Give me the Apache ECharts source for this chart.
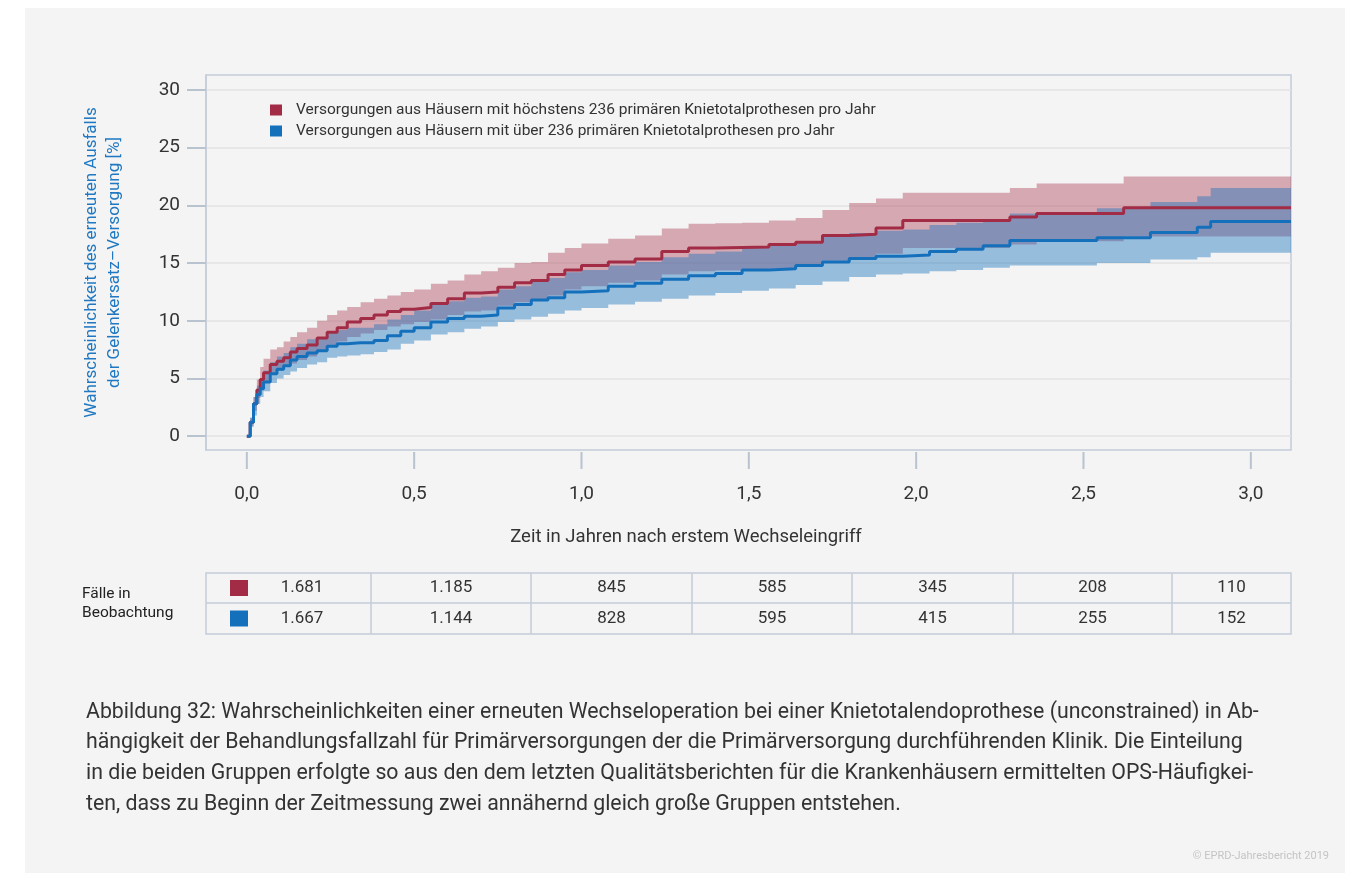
<!DOCTYPE html>
<html>
<head>
<meta charset="utf-8">
<script src="https://cdn.jsdelivr.net/npm/echarts@6/dist/echarts.min.js"></script>
<style>
  body { margin: 0; background: #fff; }
  #panel { position: absolute; left: 25px; top: 8px; width: 1320px; height: 865px; background: #f4f4f4; }
  #chart { position: absolute; left: 0; top: 0; width: 1357px; height: 873px; }
</style>
</head>
<body>
<div id="panel"></div>
<div id="chart"></div>
<script>
// Zeit in Jahren (Stützstellen der Treppenkurven)
const years = [0, 0.01, 0.02, 0.03, 0.04, 0.05, 0.07, 0.09, 0.11, 0.13, 0.15, 0.18, 0.21, 0.24, 0.27, 0.30,
  0.34, 0.38, 0.42, 0.46, 0.50, 0.55, 0.60, 0.65, 0.70, 0.75, 0.80, 0.85, 0.90, 0.95, 1.00,
  1.08, 1.16, 1.24, 1.32, 1.40, 1.48, 1.56, 1.64, 1.72, 1.80, 1.88, 1.96, 2.04, 2.12, 2.20,
  2.28, 2.36, 2.44, 2.54, 2.62, 2.70, 2.78, 2.84, 2.88, 2.96, 3.04, 3.12];

// höchstens 236 Primärversorgungen
const redEstimate = [0, 1.2, 2.8, 4.0, 4.9, 5.5, 6.2, 6.5, 6.8, 7.3, 7.6, 7.9, 8.5, 9.0, 9.4, 9.9,
  10.2, 10.5, 10.8, 11.0, 11.15, 11.5, 11.9, 12.4, 12.5, 12.9, 13.3, 13.5, 14.0, 14.4, 14.8,
  15.1, 15.35, 16.0, 16.3, 16.35, 16.4, 16.6, 16.8, 17.4, 17.5, 18.05, 18.7, 18.7, 18.7, 18.7,
  19.0, 19.3, 19.3, 19.3, 19.8, 19.8, 19.8, 19.8, 19.8, 19.8, 19.8, 19.8];
const redLower = [0, 0.9, 2.2, 3.3, 4.0, 4.6, 5.4, 5.7, 6.0, 6.3, 6.6, 6.9, 7.4, 7.8, 8.2, 8.6,
  8.9, 9.2, 9.5, 9.7, 9.9, 10.1, 10.5, 10.8, 10.9, 11.3, 11.6, 11.8, 12.2, 12.7, 13.0,
  13.3, 13.5, 14.0, 14.3, 14.35, 14.4, 14.5, 14.7, 15.2, 15.3, 15.8, 16.3, 16.3, 16.3, 16.3,
  16.6, 16.9, 16.9, 16.9, 17.3, 17.3, 17.3, 17.3, 17.3, 17.3, 17.3, 17.3];
const redUpper = [0, 1.6, 3.4, 4.9, 6.0, 6.7, 7.5, 7.7, 8.2, 8.6, 9.0, 9.4, 10.0, 10.5, 10.9, 11.2,
  11.6, 11.9, 12.2, 12.5, 12.7, 13.2, 13.5, 14.0, 14.3, 14.6, 15.0, 15.1, 15.9, 16.3, 16.7,
  17.1, 17.4, 18.0, 18.4, 18.45, 18.5, 18.7, 18.9, 19.6, 20.2, 20.6, 21.1, 21.1, 21.1, 21.1,
  21.5, 21.9, 21.9, 21.9, 22.5, 22.5, 22.5, 22.5, 22.5, 22.5, 22.5, 22.5];

// über 236 Primärversorgungen
const blueEstimate = [0, 1.2, 2.8, 3.6, 4.1, 4.7, 5.4, 5.8, 6.1, 6.6, 6.9, 7.2, 7.4, 7.8, 8.0, 8.1,
  8.1, 8.3, 8.7, 9.1, 9.4, 9.9, 10.2, 10.4, 10.5, 11.1, 11.4, 11.8, 12.0, 12.5, 12.6,
  13.0, 13.25, 13.6, 13.9, 14.1, 14.4, 14.5, 14.8, 15.1, 15.4, 15.6, 15.7, 16.0, 16.2, 16.5,
  16.95, 16.95, 16.95, 17.2, 17.2, 17.65, 17.65, 18.1, 18.6, 18.6, 18.6, 18.6];
const blueLower = [0, 0.8, 1.8, 2.8, 3.4, 3.9, 4.6, 5.0, 5.3, 5.6, 5.9, 6.2, 6.4, 6.8, 6.9, 7.0,
  7.1, 7.3, 7.5, 8.0, 8.3, 8.8, 9.0, 9.3, 9.5, 9.9, 10.1, 10.35, 10.6, 10.9, 11.1,
  11.4, 11.65, 11.9, 12.2, 12.4, 12.6, 12.8, 13.1, 13.4, 13.8, 14.0, 14.1, 14.3, 14.4, 14.6,
  14.8, 14.8, 14.8, 15.0, 15.0, 15.3, 15.3, 15.5, 15.9, 15.9, 15.9, 15.9];
const blueUpper = [0, 1.6, 3.4, 4.4, 5.0, 5.7, 6.4, 6.9, 7.2, 7.7, 8.0, 8.4, 8.6, 9.0, 9.2, 9.4,
  9.4, 9.7, 10.1, 10.5, 10.9, 11.4, 11.7, 12.0, 12.1, 12.7, 13.0, 13.4, 13.7, 14.2, 14.4,
  14.8, 15.1, 15.5, 15.8, 16.0, 16.4, 16.5, 16.9, 17.3, 17.6, 17.8, 17.9, 18.3, 18.5, 18.8,
  19.3, 19.3, 19.3, 19.75, 19.75, 20.3, 20.3, 20.8, 21.5, 21.5, 21.5, 21.5];

const xTicks = [0, 0.5, 1, 1.5, 2, 2.5, 3];
const yTicks = [0, 5, 10, 15, 20, 25, 30];
const seriesNames = [
  'Versorgungen aus Häusern mit höchstens 236 primären Knietotalprothesen pro Jahr',
  'Versorgungen aus Häusern mit über 236 primären Knietotalprothesen pro Jahr'
];
// Fälle in Beobachtung
const casesRed = [1681, 1185, 845, 585, 345, 208, 110];
const casesBlue = [1667, 1144, 828, 595, 415, 255, 152];

const X_MIN = -0.122, X_MAX = 3.12;
const Y_MIN = -1.2, Y_MAX = 31.3;

const RED = '#a22c46';
const BLUE = '#1570bc';
const FONT = 'Roboto';
const FRAME = '#c3ccd8';
const TICK = '#b9c3d0';

const fmtDE = v => String(v).replace(/\B(?=(\d{3})+(?!\d))/g, '.');

// Konfidenzband als Treppen-Polygon
function bandRenderer(lower, upper, color) {
  return function (params, api) {
    if (params.dataIndex !== 0) return;
    const top = [], bottom = [];
    for (let i = 0; i < years.length; i++) {
      const next = i + 1 < years.length ? years[i + 1] : years[i];
      top.push(api.coord([years[i], upper[i]]), api.coord([next, upper[i]]));
      bottom.push(api.coord([years[i], lower[i]]), api.coord([next, lower[i]]));
    }
    return {
      type: 'polygon',
      shape: { points: top.concat(bottom.reverse()) },
      style: { fill: color }
    };
  };
}

// Tabelle "Fälle in Beobachtung"
const colEdges = [206, 371, 531, 692, 852, 1013, 1172, 1291];
const rowEdges = [573, 603, 634];
const tableGraphics = [];
const lineStyle = { stroke: FRAME, lineWidth: 1.5 };
tableGraphics.push({ type: 'rect', shape: { x: colEdges[0], y: rowEdges[0], width: colEdges[7] - colEdges[0], height: rowEdges[2] - rowEdges[0] }, style: { fill: 'none', stroke: FRAME, lineWidth: 1.5 } });
tableGraphics.push({ type: 'line', shape: { x1: colEdges[0], y1: rowEdges[1], x2: colEdges[7], y2: rowEdges[1] }, style: lineStyle });
for (let c = 1; c < colEdges.length - 1; c++) {
  tableGraphics.push({ type: 'line', shape: { x1: colEdges[c], y1: rowEdges[0], x2: colEdges[c], y2: rowEdges[2] }, style: lineStyle });
}
[[casesRed, RED], [casesBlue, BLUE]].forEach(([vals, color], r) => {
  const cy = (rowEdges[r] + rowEdges[r + 1]) / 2;
  tableGraphics.push({ type: 'rect', shape: { x: 230, y: cy - 8, width: 18, height: 16 }, style: { fill: color } });
  vals.forEach((v, c) => {
    const cx = c === 0 ? 302 : (colEdges[c] + colEdges[c + 1]) / 2;
    tableGraphics.push({
      type: 'text', x: cx, y: cy,
      style: { text: fmtDE(v), font: '17px ' + FONT, fill: '#333', align: 'center', verticalAlign: 'middle' }
    });
  });
});

const captionText = [
  'Abbildung 32: Wahrscheinlichkeiten einer erneuten Wechseloperation bei einer Knietotalendoprothese (unconstrained) in Ab-',
  'hängigkeit der Behandlungsfallzahl für Primärversorgungen der die Primärversorgung durchführenden Klinik. Die Einteilung',
  'in die beiden Gruppen erfolgte so aus den dem letzten Qualitätsberichten für die Krankenhäusern ermittelten OPS-Häufigkei-',
  'ten, dass zu Beginn der Zeitmessung zwei annähernd gleich große Gruppen entstehen.'
].join('\n');

const chart = echarts.init(document.getElementById('chart'));

const option = {
  animation: false,
  textStyle: { fontFamily: FONT },
  grid: {
    left: 206, top: 75, width: 1085, height: 375,
    show: true, borderColor: FRAME, borderWidth: 1.5, backgroundColor: 'transparent'
  },
  legend: {
    data: seriesNames,
    orient: 'vertical',
    left: 270, top: 102,
    icon: 'rect', itemWidth: 12, itemHeight: 11, itemGap: 5,
    padding: 0,
    textStyle: { fontSize: 15.5, color: '#333', fontFamily: FONT, padding: [0, 0, 0, 9] }
  },
  xAxis: {
    type: 'value',
    position: 'bottom',
    min: X_MIN, max: X_MAX,
    axisLine: { show: false, onZero: false },
    axisTick: { show: false },
    axisLabel: {
      customValues: xTicks, margin: 35, fontSize: 19, color: '#333',
      formatter: v => v.toFixed(1).replace('.', ',')
    },
    splitLine: { show: false }
  },
  yAxis: {
    type: 'value',
    position: 'left',
    min: Y_MIN, max: Y_MAX,
    name: 'Wahrscheinlichkeit des erneuten Ausfalls\nder Gelenkersatz–Versorgung [%]',
    nameLocation: 'middle',
    nameGap: 80,
    nameTextStyle: { color: '#1f78c1', fontSize: 17, lineHeight: 23, fontFamily: FONT },
    axisLine: { show: true, onZero: false, lineStyle: { color: FRAME, width: 1.5 } },
    axisTick: { show: true, inside: false, customValues: yTicks, length: 19, lineStyle: { color: TICK, width: 2 } },
    axisLabel: { customValues: yTicks, margin: 26, fontSize: 19, color: '#333' },
    splitLine: { show: true, lineStyle: { color: '#e3e3e3', width: 1.5 } }
  },
  graphic: [
    {
      type: 'text', x: 686, y: 537,
      style: { text: 'Zeit in Jahren nach erstem Wechseleingriff', font: '18.5px ' + FONT, fill: '#333', align: 'center', verticalAlign: 'middle' }
    },
    {
      type: 'text', x: 82, y: 604,
      style: { text: 'Fälle in\nBeobachtung', font: '15.5px ' + FONT, fill: '#222', lineHeight: 19, verticalAlign: 'middle' }
    },
    {
      type: 'text', x: 86, y: 697,
      style: { text: captionText, font: '21.3px ' + FONT, fill: '#333', lineHeight: 30.7 }
    },
    {
      type: 'text', x: 1329, y: 856,
      style: { text: '© EPRD-Jahresbericht 2019', font: '11px ' + FONT, fill: '#c4c4c4', align: 'right', verticalAlign: 'middle' }
    }
  ].concat(tableGraphics),
  series: [
    {
      type: 'custom', name: 'bandRed', clip: true, silent: true,
      renderItem: bandRenderer(redLower, redUpper, 'rgba(162,44,70,0.38)'),
      encode: { x: 0, y: [1, 2] },
      data: years.map((t, i) => [t, redLower[i], redUpper[i]])
    },
    {
      type: 'custom', name: 'bandBlue', clip: true, silent: true,
      renderItem: bandRenderer(blueLower, blueUpper, 'rgba(21,112,188,0.42)'),
      encode: { x: 0, y: [1, 2] },
      data: years.map((t, i) => [t, blueLower[i], blueUpper[i]])
    },
    {
      type: 'line', name: seriesNames[0], step: 'end', symbol: 'none',
      color: RED, lineStyle: { color: RED, width: 3 },
      data: years.map((t, i) => [t, redEstimate[i]])
    },
    {
      type: 'line', name: seriesNames[1], step: 'end', symbol: 'none',
      color: BLUE, lineStyle: { color: BLUE, width: 3 },
      data: years.map((t, i) => [t, blueEstimate[i]])
    },
    {
      // Striche der x-Achse unterhalb des Rahmens
      type: 'custom', name: 'xTicks', clip: false, silent: true,
      encode: { x: 0, y: 1 },
      data: xTicks.map(v => [v, Y_MIN]),
      renderItem: (params, api) => {
        const p = api.coord([api.value(0), api.value(1)]);
        return {
          type: 'line',
          shape: { x1: p[0], y1: p[1] + 2, x2: p[0], y2: p[1] + 19 },
          style: { stroke: TICK, lineWidth: 2 }
        };
      }
    }
  ]
};

chart.setOption(option);
</script>
</body>
</html>
